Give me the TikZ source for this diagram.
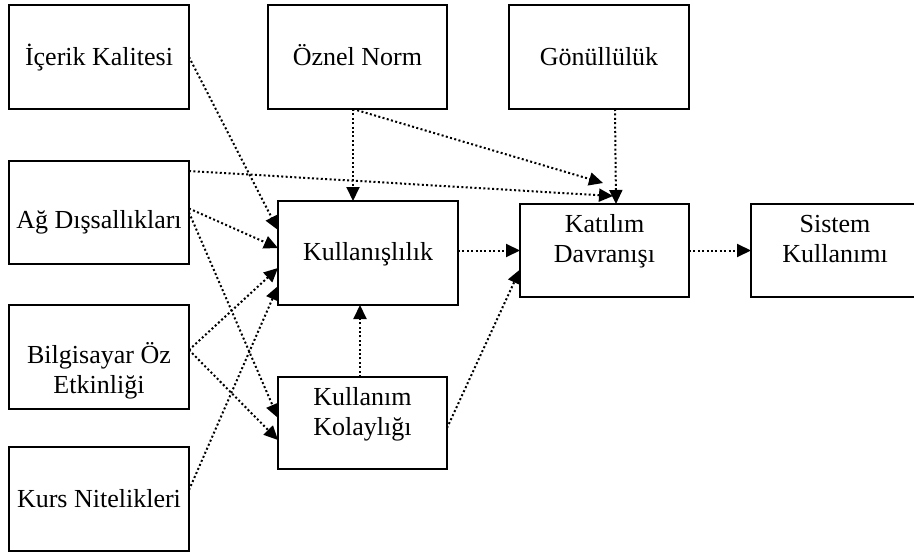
\documentclass[tikz,border=0pt]{standalone}
\usepackage{fontspec}
\setmainfont{Liberation Serif}
\usetikzlibrary{arrows.meta}
\begin{document}
\begin{tikzpicture}[x=1pt,y=-1pt,
  box/.style={draw, line width=1.3pt, rectangle, inner sep=0pt, outer sep=0pt},
  lbl/.style={anchor=base, inner sep=0pt, font=\fontsize{26}{30.5}\selectfont},
  link/.style={line width=2pt, dash pattern=on 2pt off 2.4pt,
    -{Triangle[length=14pt,width=13pt]}}]
\useasboundingbox (0,0) rectangle (914,554);
\begin{scope}
\clip (0,0) rectangle (914,554);

% construct boxes
\node[box, minimum width=180pt, minimum height=104pt] (ik)   at (99,57)      {};
\node[box, minimum width=179pt, minimum height=104pt] (on)   at (357.5,57)   {};
\node[box, minimum width=180pt, minimum height=104pt] (gon)  at (599,57)     {};
\node[box, minimum width=180pt, minimum height=103pt] (ag)   at (99,212.5)   {};
\node[box, minimum width=180pt, minimum height=104pt] (kul)  at (368,253)    {};
\node[box, minimum width=169pt, minimum height=93pt]  (kat)  at (604.5,250.5){};
\node[box, minimum width=190pt, minimum height=93pt]  (sis)  at (846,250.5)  {};
\node[box, minimum width=180pt, minimum height=104pt] (bil)  at (99,357)     {};
\node[box, minimum width=169pt, minimum height=92pt]  (kol)  at (362.5,423)  {};
\node[box, minimum width=180pt, minimum height=104pt] (kurs) at (99,499)     {};

% box captions
\node[lbl] (ik-t)   at (99,65)     {İçerik Kalitesi};
\node[lbl] (on-t)   at (357.5,65)  {Öznel Norm};
\node[lbl] (gon-t)  at (599,65)    {Gönüllülük};
\node[lbl] (ag-t)   at (99,228)    {Ağ Dışsallıkları};
\node[lbl] (kul-t)  at (368,260)   {Kullanışlılık};
\node[lbl] (kat-t)  at (604.5,232) {\begin{tabular}[t]{@{}c@{}}Katılım\\Davranışı\end{tabular}};
\node[lbl] (sis-t)  at (835,232)   {\begin{tabular}[t]{@{}c@{}}Sistem\\Kullanımı\end{tabular}};
\node[lbl] (bil-t)  at (99,363)    {\begin{tabular}[t]{@{}c@{}}Bilgisayar Öz\\Etkinliği\end{tabular}};
\node[lbl] (kol-t)  at (362.5,405) {\begin{tabular}[t]{@{}c@{}}Kullanım\\Kolaylığı\end{tabular}};
\node[lbl] (kurs-t) at (99,507)    {Kurs Nitelikleri};

% paths into Kullanışlılık
\draw[link] (ik.east) -- ([yshift=-29pt]kul.north west);
\draw[link] ([yshift=4pt]ag.east) -- ([yshift=-47pt]kul.north west);
\draw[link] ([yshift=7pt]bil.east) -- ([yshift=-67pt]kul.north west);
\draw[link] ([yshift=9pt]kurs.east) -- ([yshift=-85pt]kul.north west);
\draw[link] ([xshift=-4.5pt]on.south) -- ([xshift=-15pt]kul.north);
\draw[link] ([xshift=-2.5pt]kol.north) -- ([xshift=-8pt]kul.south);

% paths into Kullanım Kolaylığı
\draw[link] (ag.east) -- ([yshift=-41pt]kol.north west);
\draw[link] ([yshift=7pt]bil.east) -- ([yshift=-63pt]kol.north west);

% paths into Katılım Davranışı
\draw[link] ([yshift=-10pt]ag.north east) -- ([xshift=8.5pt,yshift=8pt]kat.north);
\draw[link] ([xshift=-4.5pt]on.south) -- ([xshift=-1.5pt,yshift=21pt]kat.north);
\draw[link] ([xshift=16pt]gon.south) -- ([xshift=11.5pt]kat.north);
\draw[link] (kul.east |- kat.west) -- (kat.west);
\draw[link] ([yshift=-5pt]kol.east) -- ([yshift=-19pt]kat.west);

% path into Sistem Kullanımı
\draw[link] (kat.east) -- (sis.west);
\end{scope}
\end{tikzpicture}
\end{document}
